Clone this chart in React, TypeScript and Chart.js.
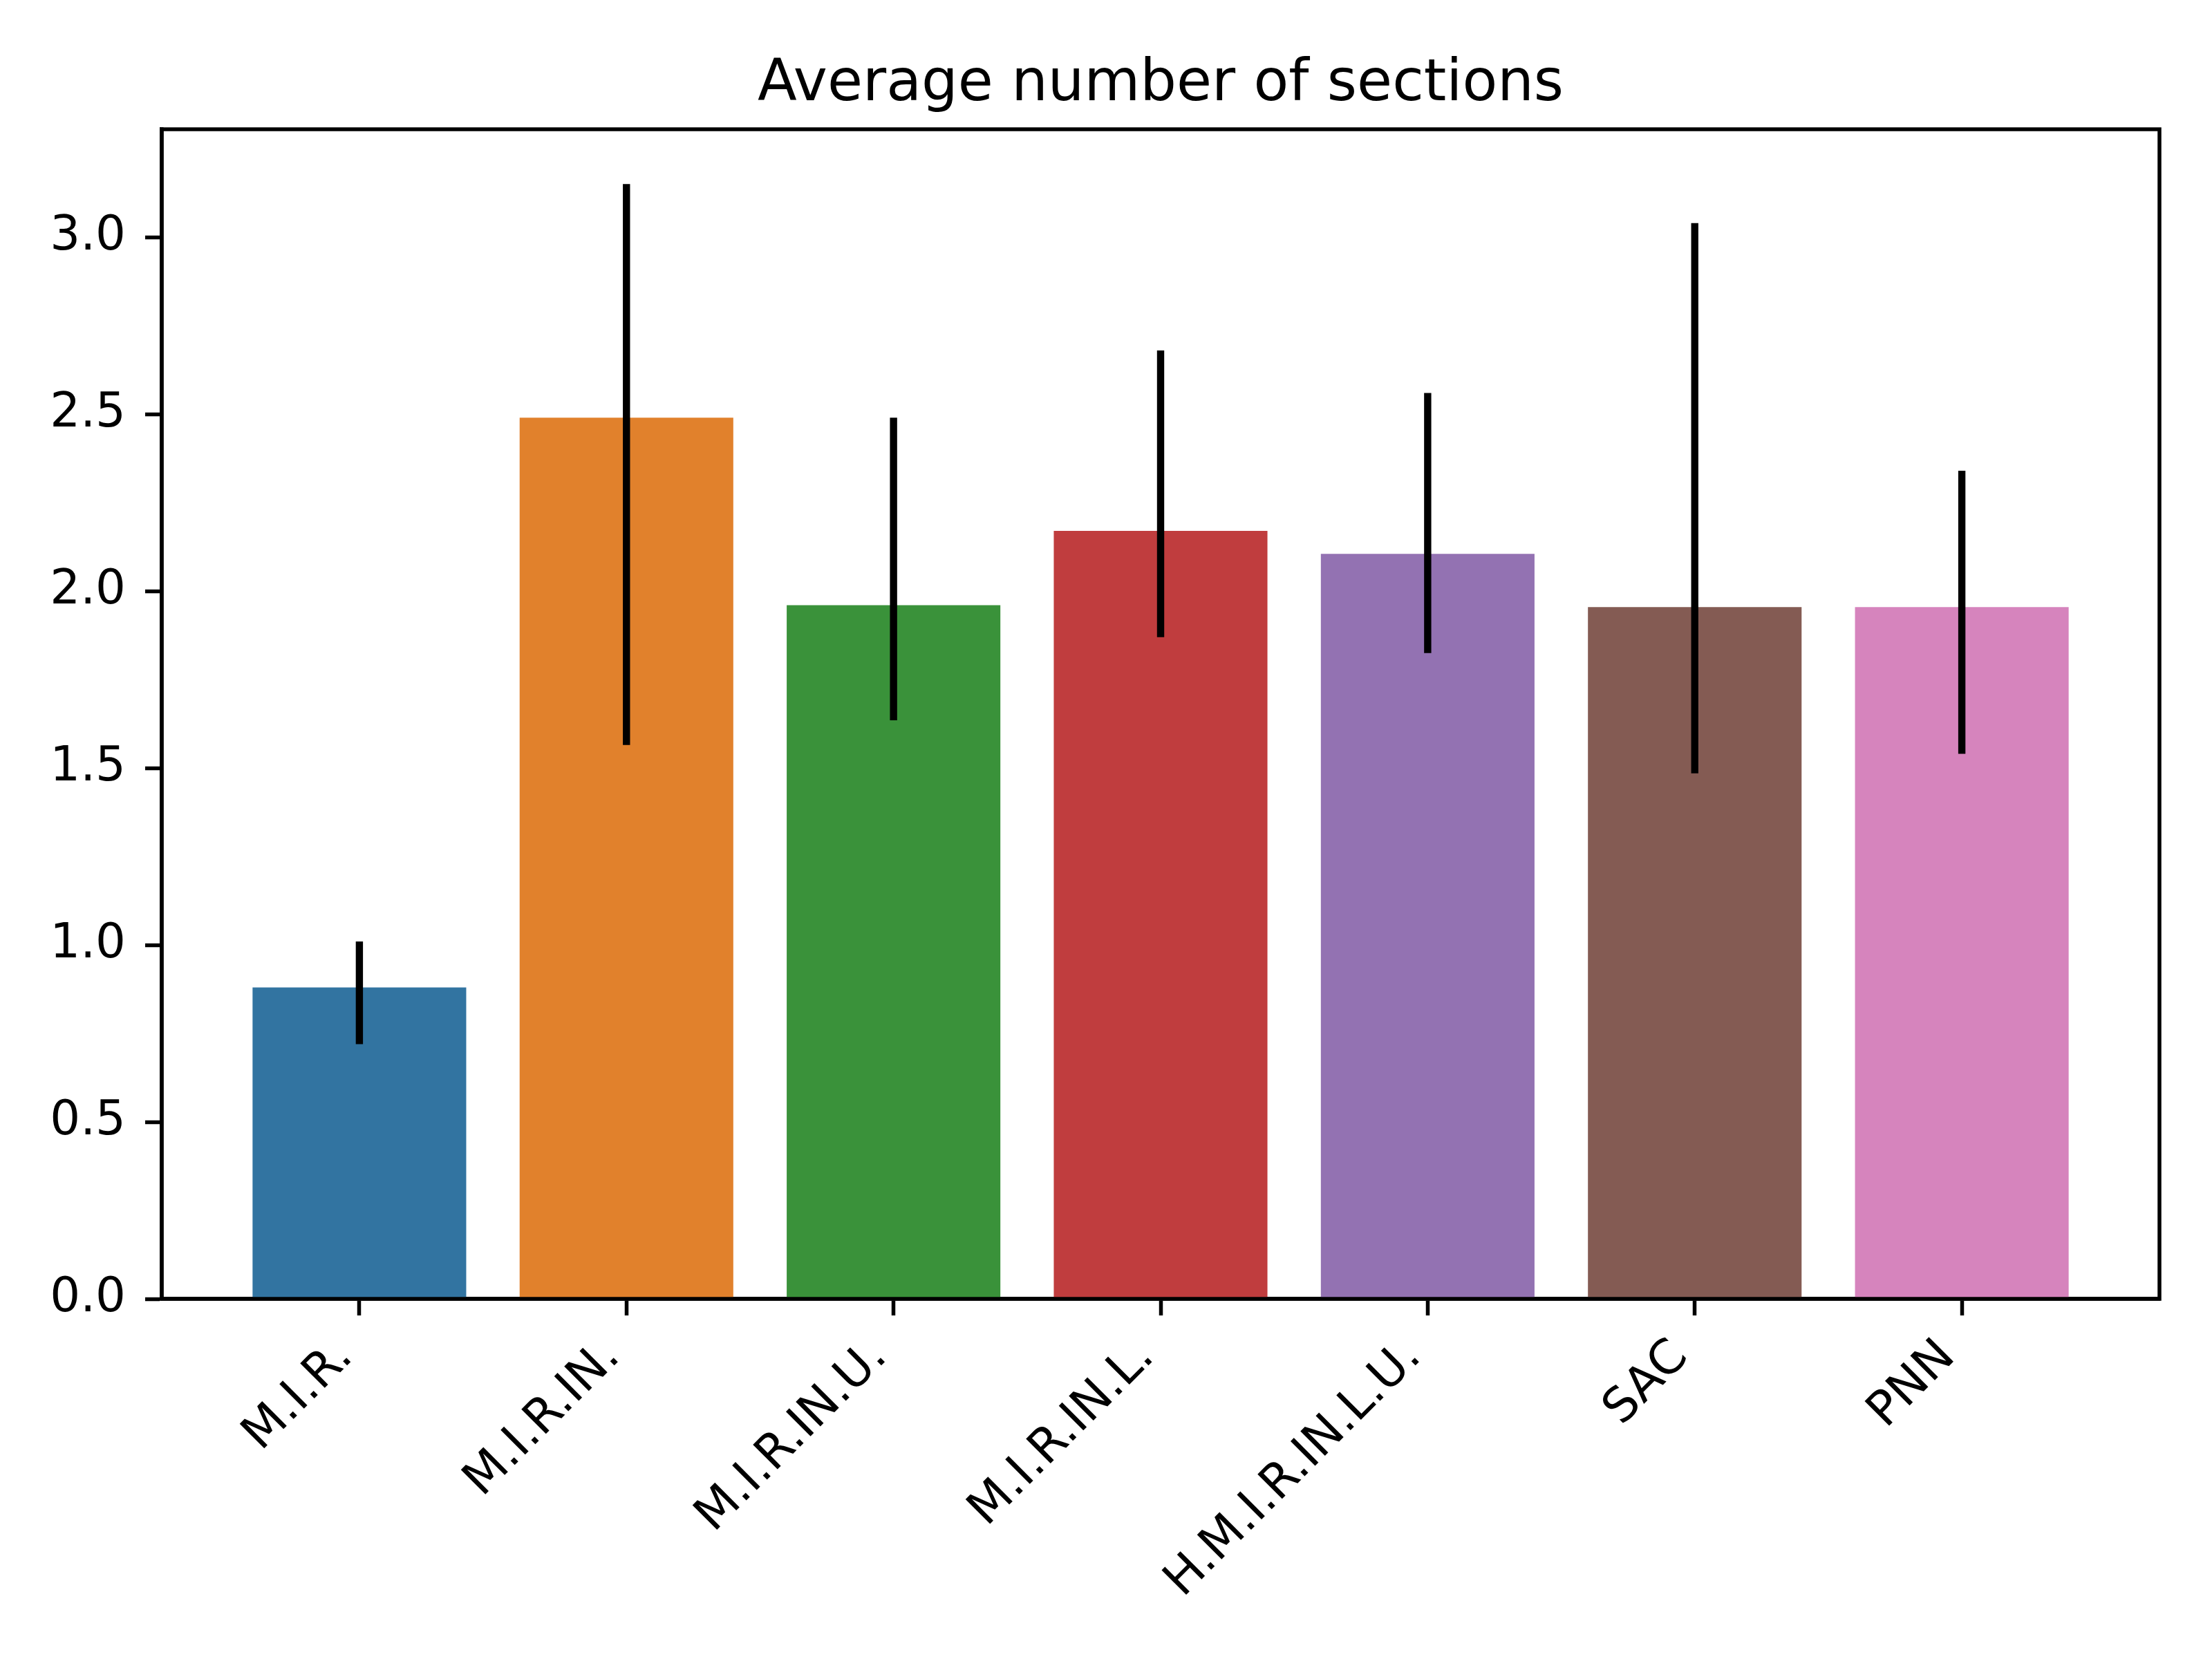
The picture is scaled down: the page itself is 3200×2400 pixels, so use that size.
import { useEffect, useRef } from "react";
import { Chart, registerables } from "chart.js";

Chart.register(...registerables);

const categories = ["M.I.R.", "M.I.R.IN.", "M.I.R.IN.U.", "M.I.R.IN.L.", "H.M.I.R.IN.L.U.", "SAC", "PNN"];
const means = [0.88, 2.49, 1.96, 2.17, 2.105, 1.955, 1.955];
const errLow = [0.72, 1.565, 1.635, 1.87, 1.825, 1.485, 1.54];
const errHigh = [1.01, 3.15, 2.49, 2.68, 2.56, 3.04, 2.34];
const yTicks = [0, 0.5, 1.0, 1.5, 2.0, 2.5, 3.0];
const barColors = ["#3274a1", "#e1812c", "#3a923a", "#c03d3e", "#9372b2", "#845b53", "#d684bd"];
const title = "Average number of sections";

const FONT = "'DejaVu Sans', sans-serif";

// vertical error lines through each bar
const errorBars = {
  id: "errorBars",
  afterDatasetsDraw(chart: any) {
    const { ctx, scales } = chart;
    ctx.save();
    ctx.strokeStyle = "#000";
    ctx.lineWidth = 10.4;
    ctx.lineCap = "butt";
    categories.forEach((_, i) => {
      const x = scales.x.getPixelForValue(i);
      ctx.beginPath();
      ctx.moveTo(x, scales.y.getPixelForValue(errLow[i]));
      ctx.lineTo(x, scales.y.getPixelForValue(errHigh[i]));
      ctx.stroke();
    });
    ctx.restore();
  },
};

// box around the plot area + title centred over the axes (matplotlib style)
const frame = {
  id: "frame",
  afterDraw(chart: any) {
    const { ctx, chartArea } = chart;
    ctx.save();
    ctx.strokeStyle = "#000";
    ctx.lineWidth = 5.5;
    ctx.strokeRect(chartArea.left, chartArea.top, chartArea.right - chartArea.left, chartArea.bottom - chartArea.top);
    ctx.fillStyle = "#000";
    ctx.font = `83px ${FONT}`;
    ctx.textAlign = "center";
    ctx.textBaseline = "alphabetic";
    ctx.fillText(title, (chartArea.left + chartArea.right) / 2, chartArea.top - 42);
    ctx.restore();
  },
};

export default function App() {
  const canvasRef = useRef<HTMLCanvasElement | null>(null);

  useEffect(() => {
    document.body.style.margin = "0";
    if (!canvasRef.current) return;

    const chart = new Chart(canvasRef.current, {
      type: "bar",
      data: {
        datasets: [
          {
            data: means.map((v, i) => ({ x: i, y: v })),
            backgroundColor: barColors,
            borderWidth: 0,
            barPercentage: 0.8,
            categoryPercentage: 1,
          },
        ],
      },
      options: {
        animation: false,
        responsive: true,
        maintainAspectRatio: false,
        devicePixelRatio: 1,
        layout: { padding: { left: 0, right: 76, top: 187, bottom: 0 } },
        plugins: {
          legend: { display: false },
          tooltip: { enabled: false },
          title: { display: false },
        },
        scales: {
          x: {
            type: "linear",
            min: -0.74,
            max: 6.74,
            offset: false,
            afterBuildTicks: (scale: any) => {
              scale.ticks = categories.map((_, i) => ({ value: i }));
            },
            afterFit: (scale: any) => {
              scale.height = 521;
            },
            grid: {
              display: true,
              offset: false,
              drawOnChartArea: false,
              drawTicks: true,
              tickLength: 24,
              tickWidth: 5.5,
              tickColor: "#000",
            },
            border: { display: true, color: "#000", width: 5.5 },
            ticks: {
              autoSkip: false,
              minRotation: 45,
              maxRotation: 45,
              padding: 20,
              labelOffset: -20,
              color: "#000",
              font: { family: FONT, size: 69 },
              callback: (value: any) => categories[value] ?? "",
            },
          },
          y: {
            type: "linear",
            min: 0,
            max: 3.305,
            afterBuildTicks: (scale: any) => {
              scale.ticks = yTicks.map((v) => ({ value: v }));
            },
            afterFit: (scale: any) => {
              scale.width = 234;
            },
            grid: {
              display: true,
              drawOnChartArea: false,
              drawTicks: true,
              tickLength: 24,
              tickWidth: 5.5,
              tickColor: "#000",
            },
            border: { display: true, color: "#000", width: 5.5 },
            ticks: {
              padding: 28,
              color: "#000",
              font: { family: FONT, size: 69 },
              callback: (value: any) => Number(value).toFixed(1),
            },
          },
        },
      },
      plugins: [errorBars, frame],
    });

    return () => {
      chart.destroy();
    };
  }, []);

  return (
    <div style={{ width: "3200px", height: "2400px", background: "#fff" }}>
      <canvas ref={canvasRef}></canvas>
    </div>
  );
}
